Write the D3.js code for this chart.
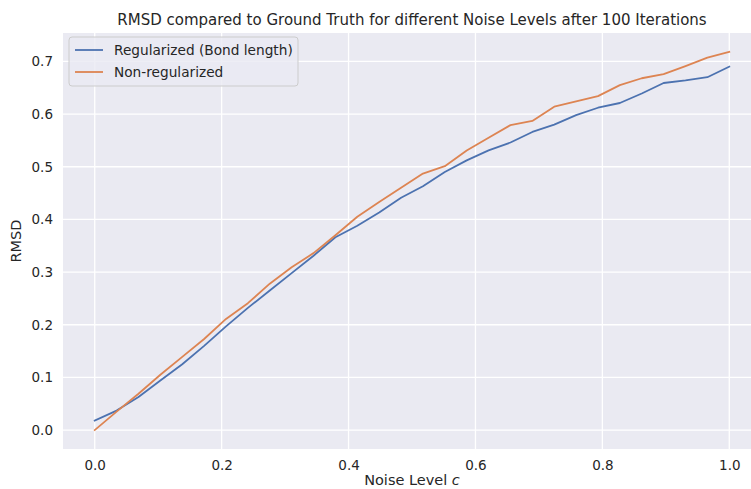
<!DOCTYPE html>
<html>
<head>
<meta charset="utf-8">
<script src="https://cdn.jsdelivr.net/npm/d3@7"></script>
<style>
  html, body { margin: 0; padding: 0; background: #fff; overflow: hidden; }
  svg { display: block; font-family: "DejaVu Sans", sans-serif; }
</style>
</head>
<body>
<div id="chart"></div>
<script>
/* RMSD vs noise level — seaborn darkgrid look */

const noiseLevels = d3.range(30).map(i => i / 29);

const regularized = [
  0.018, 0.037, 0.063, 0.094, 0.125, 0.160, 0.197, 0.232, 0.265, 0.298,
  0.331, 0.366, 0.388, 0.413, 0.441, 0.463, 0.490, 0.512, 0.531, 0.546,
  0.566, 0.580, 0.598, 0.612, 0.621, 0.639, 0.659, 0.664, 0.670, 0.690
];

const nonRegularized = [
  0.000, 0.035, 0.069, 0.105, 0.139, 0.173, 0.211, 0.241, 0.278, 0.309,
  0.336, 0.370, 0.405, 0.433, 0.460, 0.487, 0.501, 0.531, 0.555, 0.579,
  0.587, 0.614, 0.624, 0.634, 0.655, 0.668, 0.676, 0.691, 0.707, 0.718
];

const seriesNames = ['Regularized (Bond length)', 'Non-regularized'];
const seriesColors = ['#4c72b0', '#dd8452'];
const xTicks = [0, 0.2, 0.4, 0.6, 0.8, 1.0];
const yTicks = [0, 0.1, 0.2, 0.3, 0.4, 0.5, 0.6, 0.7];

const width = 751;
const height = 489;
const plot = { left: 63, top: 33, right: 761, bottom: 449 };
const textColor = '#262626';

const svg = d3.select('#chart')
  .append('svg')
  .attr('width', width)
  .attr('height', height);

// matplotlib-style 5% margins
const yMax = d3.max(nonRegularized.concat(regularized));
const yMin = d3.min(nonRegularized.concat(regularized));
const yPad = (yMax - yMin) * 0.05;

const x = d3.scaleLinear().domain([-0.05, 1.05]).range([plot.left, plot.right]);
const y = d3.scaleLinear().domain([yMin - yPad, yMax + yPad]).range([plot.bottom, plot.top]);

// background
svg.append('rect')
  .attr('x', plot.left)
  .attr('y', plot.top)
  .attr('width', plot.right - plot.left)
  .attr('height', plot.bottom - plot.top)
  .attr('fill', '#eaeaf2');

// grid
const grid = svg.append('g');
grid.selectAll('line.gx')
  .data(xTicks)
  .join('line')
  .attr('class', 'gx')
  .attr('x1', d => x(d)).attr('x2', d => x(d))
  .attr('y1', plot.top).attr('y2', plot.bottom)
  .attr('stroke', '#fff')
  .attr('stroke-width', 1.3);
grid.selectAll('line.gy')
  .data(yTicks)
  .join('line')
  .attr('class', 'gy')
  .attr('x1', plot.left).attr('x2', plot.right)
  .attr('y1', d => y(d)).attr('y2', d => y(d))
  .attr('stroke', '#fff')
  .attr('stroke-width', 1.3);

// axes (ticks hidden, labels only)
const xAxis = svg.append('g')
  .attr('transform', `translate(0,${plot.bottom})`)
  .call(d3.axisBottom(x).tickValues(xTicks).tickFormat(d3.format('.1f')).tickSize(0).tickPadding(11));
const yAxis = svg.append('g')
  .attr('transform', `translate(${plot.left},0)`)
  .call(d3.axisLeft(y).tickValues(yTicks).tickFormat(d3.format('.1f')).tickSize(0).tickPadding(10));

[xAxis, yAxis].forEach(a => {
  a.select('.domain').remove();
  a.selectAll('text')
    .attr('fill', textColor)
    .style('font-family', '"DejaVu Sans", sans-serif')
    .style('font-size', '13.5px');
});

// lines
const line = d3.line()
  .x((d, i) => x(noiseLevels[i]))
  .y(d => y(d));

const clip = svg.append('clipPath').attr('id', 'plot-clip')
  .append('rect')
  .attr('x', plot.left).attr('y', plot.top)
  .attr('width', plot.right - plot.left).attr('height', plot.bottom - plot.top);

const lines = svg.append('g').attr('clip-path', 'url(#plot-clip)');
[regularized, nonRegularized].forEach((series, k) => {
  lines.append('path')
    .datum(series)
    .attr('d', line)
    .attr('fill', 'none')
    .attr('stroke', seriesColors[k])
    .attr('stroke-width', 1.8)
    .attr('stroke-linejoin', 'round')
    .attr('stroke-linecap', 'square');
});

// title
svg.append('text')
  .attr('x', (plot.left + plot.right) / 2)
  .attr('y', 25)
  .attr('text-anchor', 'middle')
  .attr('fill', textColor)
  .style('font-size', '15px')
  .text('RMSD compared to Ground Truth for different Noise Levels after 100 Iterations');

// axis labels
const xLabel = svg.append('text')
  .attr('x', (plot.left + plot.right) / 2)
  .attr('y', 485)
  .attr('text-anchor', 'middle')
  .attr('fill', textColor)
  .style('font-size', '14.5px');
xLabel.append('tspan').text('Noise Level ');
xLabel.append('tspan').style('font-style', 'italic').text('c');

svg.append('text')
  .attr('transform', `translate(21,${(plot.top + plot.bottom) / 2}) rotate(-90)`)
  .attr('text-anchor', 'middle')
  .attr('fill', textColor)
  .style('font-size', '14.5px')
  .text('RMSD');

// legend
const legend = svg.append('g').attr('transform', 'translate(69,37)');
legend.append('rect')
  .attr('width', 229)
  .attr('height', 49)
  .attr('rx', 3)
  .attr('fill', '#eaeaf2')
  .attr('fill-opacity', 0.8)
  .attr('stroke', '#cccccc')
  .attr('stroke-width', 1);

seriesNames.forEach((name, k) => {
  const row = legend.append('g').attr('transform', `translate(0,${13 + k * 22})`);
  row.append('line')
    .attr('x1', 6).attr('x2', 34)
    .attr('stroke', seriesColors[k])
    .attr('stroke-width', 1.8);
  row.append('text')
    .attr('x', 45)
    .attr('dy', '0.35em')
    .attr('fill', textColor)
    .style('font-size', '13.7px')
    .text(name);
});
</script>
</body>
</html>
